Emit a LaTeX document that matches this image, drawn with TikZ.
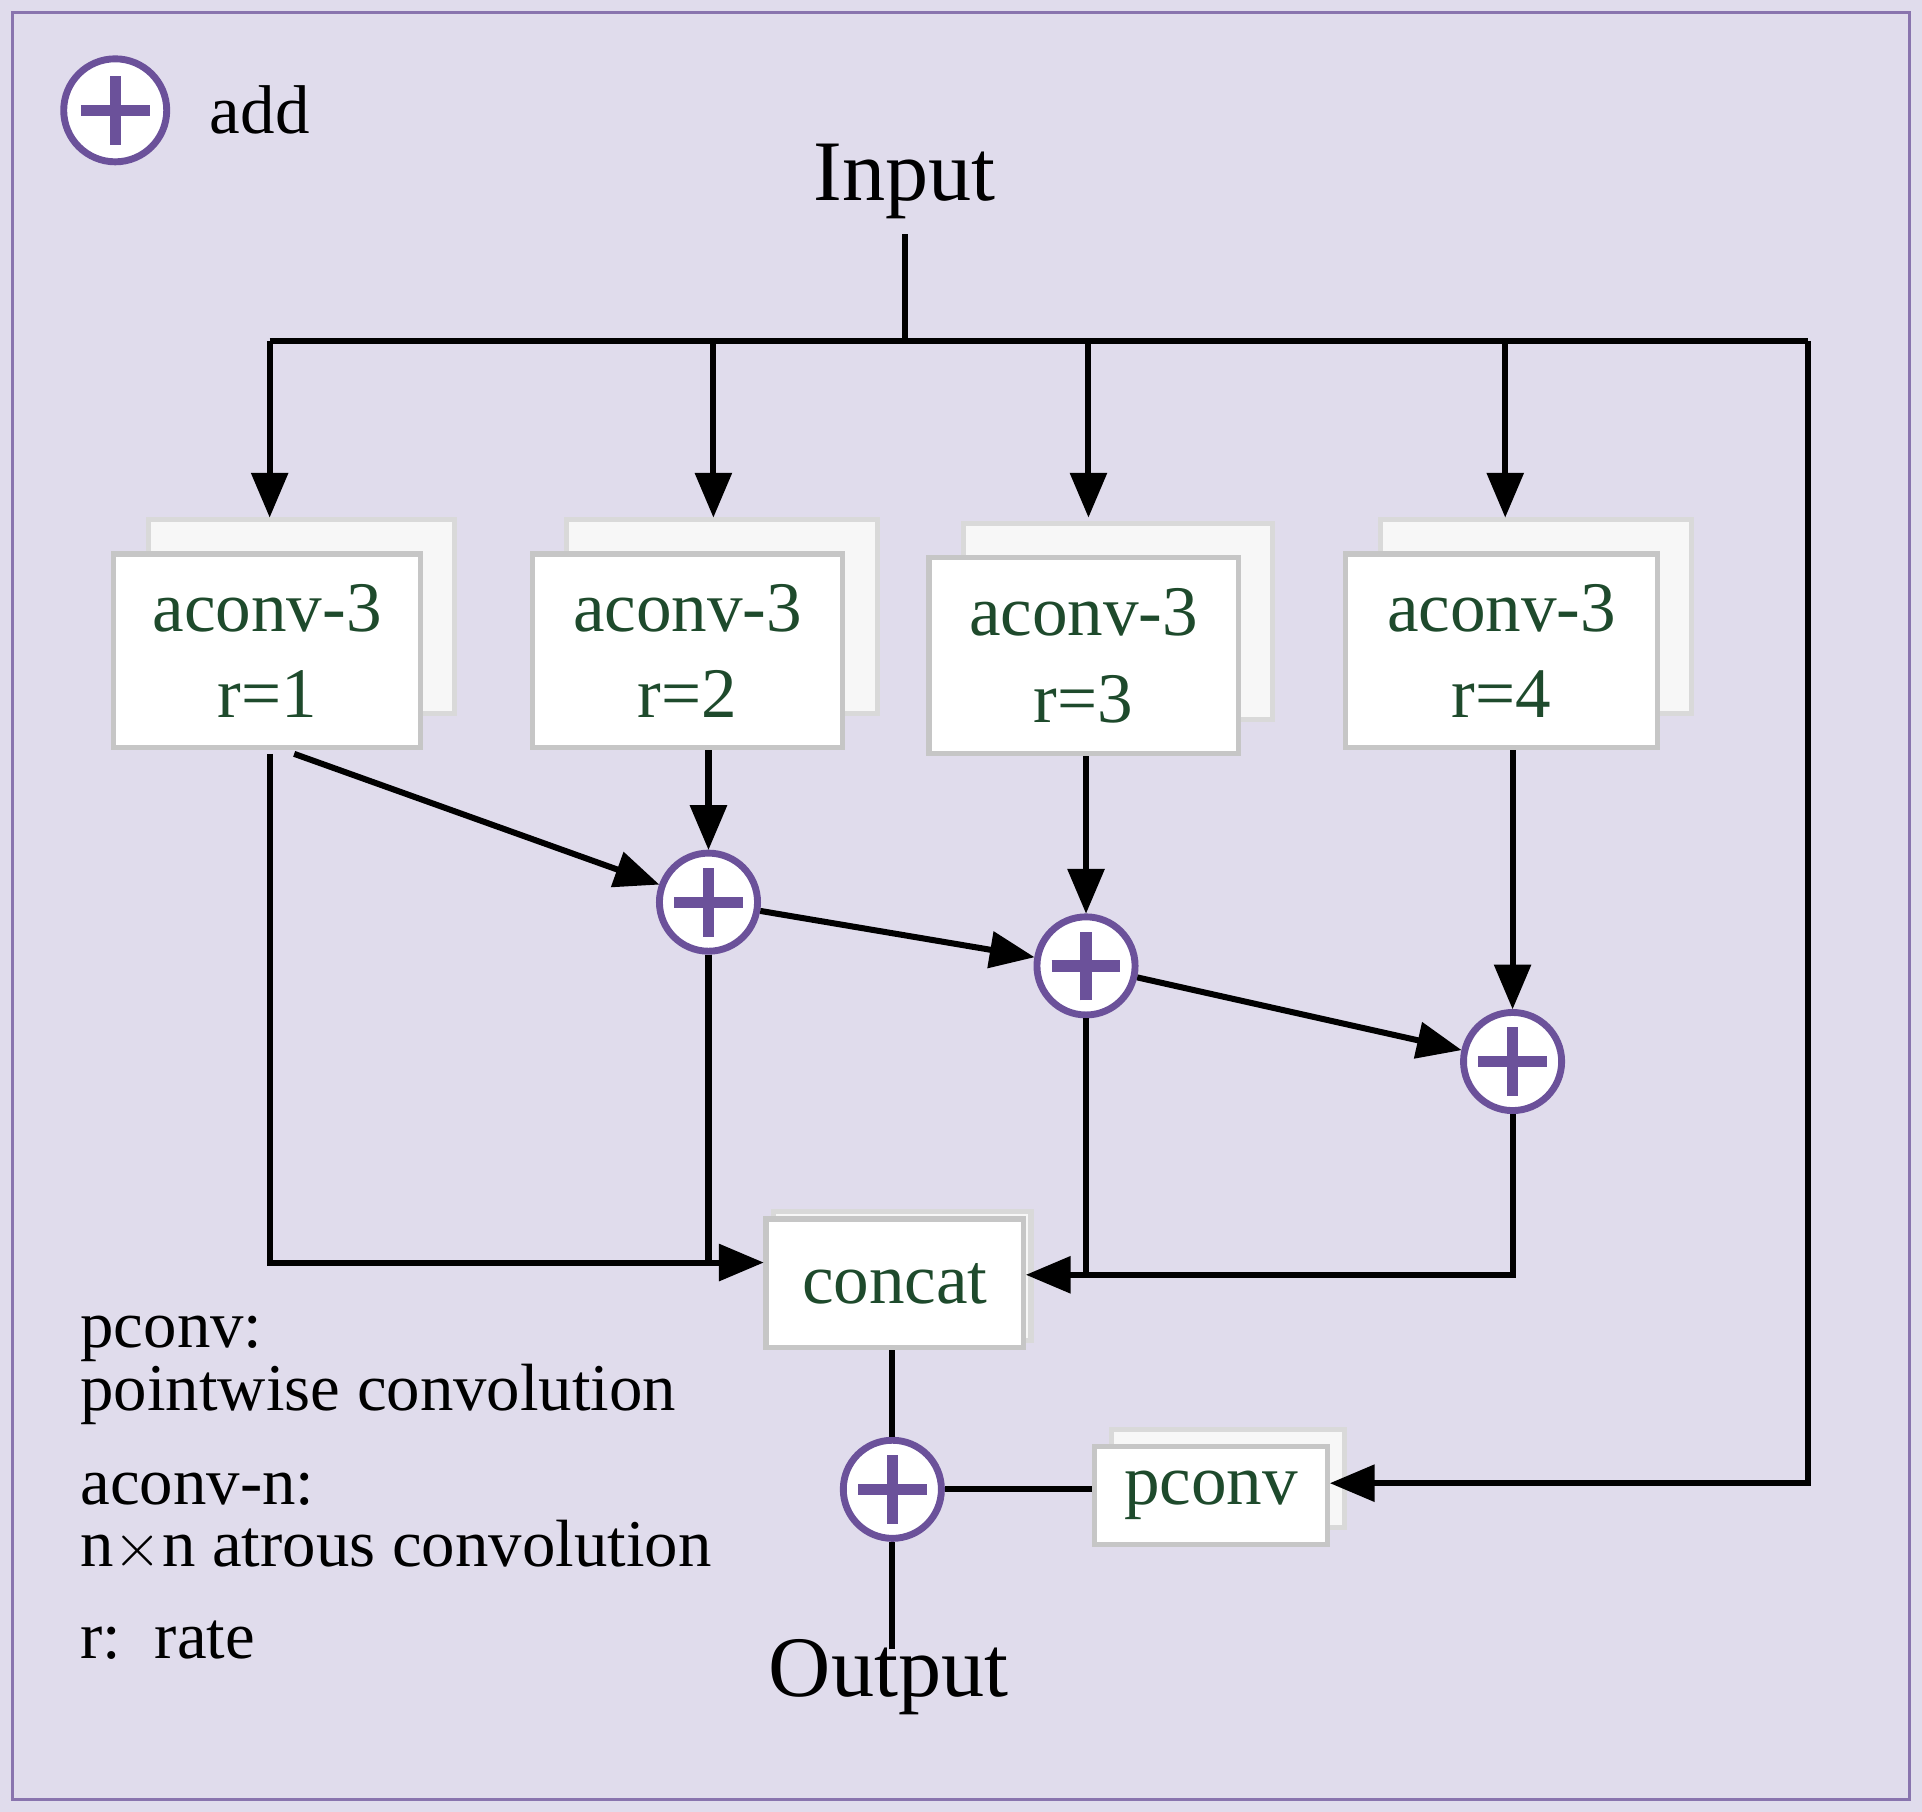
\documentclass[tikz,border=0pt]{standalone}
\usepackage{fontspec}
\setmainfont{Liberation Serif}
\usetikzlibrary{arrows,shadows,positioning}
\definecolor{bgviolet}{HTML}{E0DCEC}
\definecolor{addviolet}{HTML}{6B519A}
\definecolor{txtgreen}{HTML}{1E4A2C}
\tikzset{
  block/.style={rectangle,fill=white,draw=gray!45,line width=1.2pt,text=txtgreen,
    font=\fontsize{16.5}{20}\selectfont,align=center,inner sep=0pt,
    copy shadow={shadow xshift=#1,shadow yshift=#1,fill=white!94!gray,draw=gray!30}},
  block/.default=0.28cm,
  addnode/.style={circle,draw=addviolet,fill=white,line width=1.6pt,minimum size=0.8cm,inner sep=0pt,
    path picture={\draw[addviolet,line width=2.6pt]
      ([xshift=-0.28cm]path picture bounding box.center) -- ([xshift=0.28cm]path picture bounding box.center)
      ([yshift=-0.28cm]path picture bounding box.center) -- ([yshift=0.28cm]path picture bounding box.center);}},
  flow/.style={->,>=triangle 45,line width=1.4pt},
  link/.style={line width=1.4pt},
  legend/.style={font=\fontsize{15.5}{14.5}\selectfont,anchor=west,align=left,inner sep=0pt}
}
\begin{document}
\begin{tikzpicture}[x=0.01cm,y=-0.01cm]
  \useasboundingbox (0,0) rectangle (1568,1478);
  \fill[bgviolet] (0,0) rectangle (1568,1478);
  \draw[addviolet!80,line width=0.8pt] (10,10) rectangle (1558,1468);
  % legend
  \node[addnode,minimum size=0.84cm] (key) at (94,90) {};
  \node[font=\fontsize{16}{18}\selectfont,right=0.2cm of key] (keytext) {add};
  \node[font=\fontsize{20}{24}\selectfont] (input) at (738,148) {Input};
  \node[font=\fontsize{20}{24}\selectfont] (output) at (725,1368) {Output};
  % blocks
  \node[block,minimum width=2.5cm,minimum height=1.58cm] (b1) at (218,531) {aconv-3\\r=1};
  \node[block,minimum width=2.53cm,minimum height=1.58cm] (b2) at (561,531) {aconv-3\\r=2};
  \node[block,minimum width=2.52cm,minimum height=1.6cm] (b3) at (884,535) {aconv-3\\r=3};
  \node[block,minimum width=2.54cm,minimum height=1.58cm] (b4) at (1225,531) {aconv-3\\r=4};
  \node[block=0.06cm,minimum width=2.1cm,minimum height=1.05cm] (concat) at (730,1047) {concat};
  \node[block=0.14cm,minimum width=1.9cm,minimum height=0.8cm] (pconv) at (988,1220) {pconv};
  % adders
  \node[addnode] (a1) at (578,736) {};
  \node[addnode] (a2) at (886,788) {};
  \node[addnode] (a3) at (1234,866) {};
  \node[addnode] (a4) at (728,1215) {};
  \coordinate (split) at (738,278);
  \coordinate (corner) at (1475,278);
  % input distribution
  \draw[link] (input.south) -- (split);
  \draw[link] (220,278) -- (corner);
  \foreach \x in {220,582,888,1228}
    \draw[flow] (\x,278) -- (\x,422);
  \draw[flow] (corner) -- (1475,1210) -- (pconv.east |- 0,1210);
  % adder chain
  \draw[flow] (240,615) -- (a1);
  \draw[flow] (a1 |- b2.south) -- (a1);
  \draw[flow] (a1) -- (a2);
  \draw[flow] (a2 |- b3.south) -- (a2);
  \draw[flow] (a2) -- (a3);
  \draw[flow] (a3 |- b4.south) -- (a3);
  % into concat
  \draw[flow] (220,615) -- (220,1030) -- (concat.west |- 0,1030);
  \draw[link] (a1.south) -- (a1 |- 0,1030);
  \draw[link] (a2.south) -- (a2 |- 0,1040);
  \draw[flow] (a3.south) -- (a3 |- 0,1040) -- (concat.east |- 0,1040);
  % output
  \draw[link] (concat.south -| a4) -- (a4);
  \draw[link] (pconv.west |- a4) -- (a4);
  \draw[link] (a4) -- (728,1345);
  % notes
  \node[legend] (n1) at (65,1118) {pconv:\\pointwise convolution};
  \node[legend] (n2) at (65,1242) {aconv-n:\\n$\times$n atrous convolution};
  \node[legend] (n3) at (65,1338) {r:\ \ rate};
\end{tikzpicture}
\end{document}
